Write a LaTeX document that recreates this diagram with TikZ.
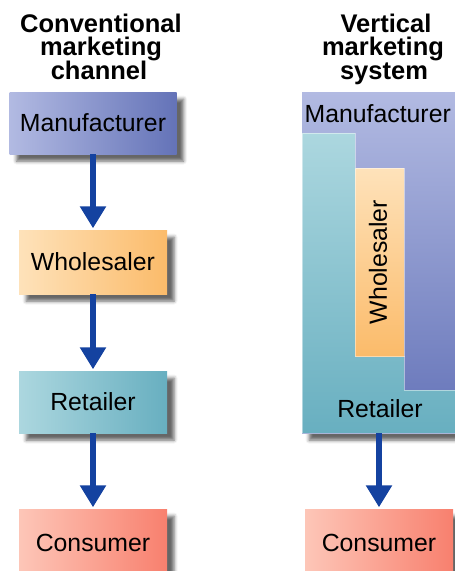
\documentclass[tikz,border=0pt]{standalone}
\usepackage{fontspec}
\setmainfont{Liberation Sans}
\usetikzlibrary{shadows.blur,arrows.meta}

% fills of the four channel members (light end, dark end)
\definecolor{mfgA}{RGB}{178,186,226}
\definecolor{mfgB}{RGB}{100,115,184}
\definecolor{whsA}{RGB}{254,226,186}
\definecolor{whsB}{RGB}{251,187,106}
\definecolor{retA}{RGB}{172,215,223}
\definecolor{retB}{RGB}{104,175,192}
\definecolor{conA}{RGB}{253,198,184}
\definecolor{conB}{RGB}{248,128,110}
\definecolor{flow}{RGB}{20,66,160}

\tikzset{
  dropshadow/.style={blur shadow={shadow xshift=7pt, shadow yshift=-7pt,
      shadow blur radius=3.5pt, shadow opacity=60}},
  member/.style={minimum width=148pt, minimum height=63pt, inner sep=0pt,
      font=\fontsize{24.8}{28}\selectfont, dropshadow},
  heading/.style={anchor=base, inner sep=0pt,
      font=\fontsize{25.5}{28}\selectfont\bfseries},
  label/.style={inner sep=0pt, font=\fontsize{24.8}{28}\selectfont},
  flowarrow/.style={draw=flow, line width=5.5pt,
      -{Triangle[width=25pt,length=22pt]}, shorten >=1.5pt},
  seam/.style={draw=white, draw opacity=0.45, line width=0.7pt},
}

\begin{document}
\begin{tikzpicture}[x=1pt, y=-1pt]
  \useasboundingbox (0,0) rectangle (455,571);
  \clip (0,0) rectangle (455,571);

  % ---- conventional marketing channel ----
  \node[heading] (hc1) at (101,32)   {Conventional};
  \node[heading] (hc2) at (101,55.5) {marketing};
  \node[heading] (hc3) at (99,79)    {channel};

  \node[member, minimum width=167pt, minimum height=62pt,
        left color=mfgA, right color=mfgB] (mL) at (93,123) {Manufacturer};
  \node[member, minimum height=64pt,
        left color=whsA, right color=whsB] (wL) at (93,262) {Wholesaler};
  \node[member, minimum height=62pt,
        left color=retA, right color=retB] (rL) at (93,402) {Retailer};
  \node[member, minimum height=68pt,
        left color=conA, right color=conB] (cL) at (93,543) {Consumer};

  \draw[flowarrow] (mL.south) -- (wL.north);
  \draw[flowarrow] (wL.south) -- (rL.north);
  \draw[flowarrow] (rL.south) -- (cL.north);

  % ---- vertical marketing system ----
  \node[heading] (hv1) at (386,32)   {Vertical};
  \node[heading] (hv2) at (383,55.5) {marketing};
  \node[heading] (hv3) at (384,79)   {system};

  % manufacturer owns the whole system
  \node[dropshadow, inner sep=0pt, minimum width=158pt, minimum height=341pt,
        top color=mfgA, bottom color=mfgB] (vms) at (381,262.5) {};
  % retailer band wrapping round the wholesaler
  \shade[top color=retA, bottom color=retB, seam]
    (302,133) -- (355,133) -- (355,356) -- (404,356) -- (404,390)
    -- (462,390) -- (462,433) -- (302,433) -- cycle;
  % wholesaler inside
  \shade[top color=whsA, bottom color=whsB, seam]
    (355.5,168) rectangle (404,356);

  \node[label, anchor=base west] (mR) at (304.5,122) {Manufacturer};
  \node[label, rotate=90] (wR) at (378,262) {Wholesaler};
  \node[label, anchor=base] (rR) at (380,417) {Retailer};

  \node[member, minimum height=68pt,
        left color=conA, right color=conB] (cR) at (379,543) {Consumer};

  \draw[flowarrow] (vms.south -| cR.north) -- (cR.north);
\end{tikzpicture}
\end{document}
